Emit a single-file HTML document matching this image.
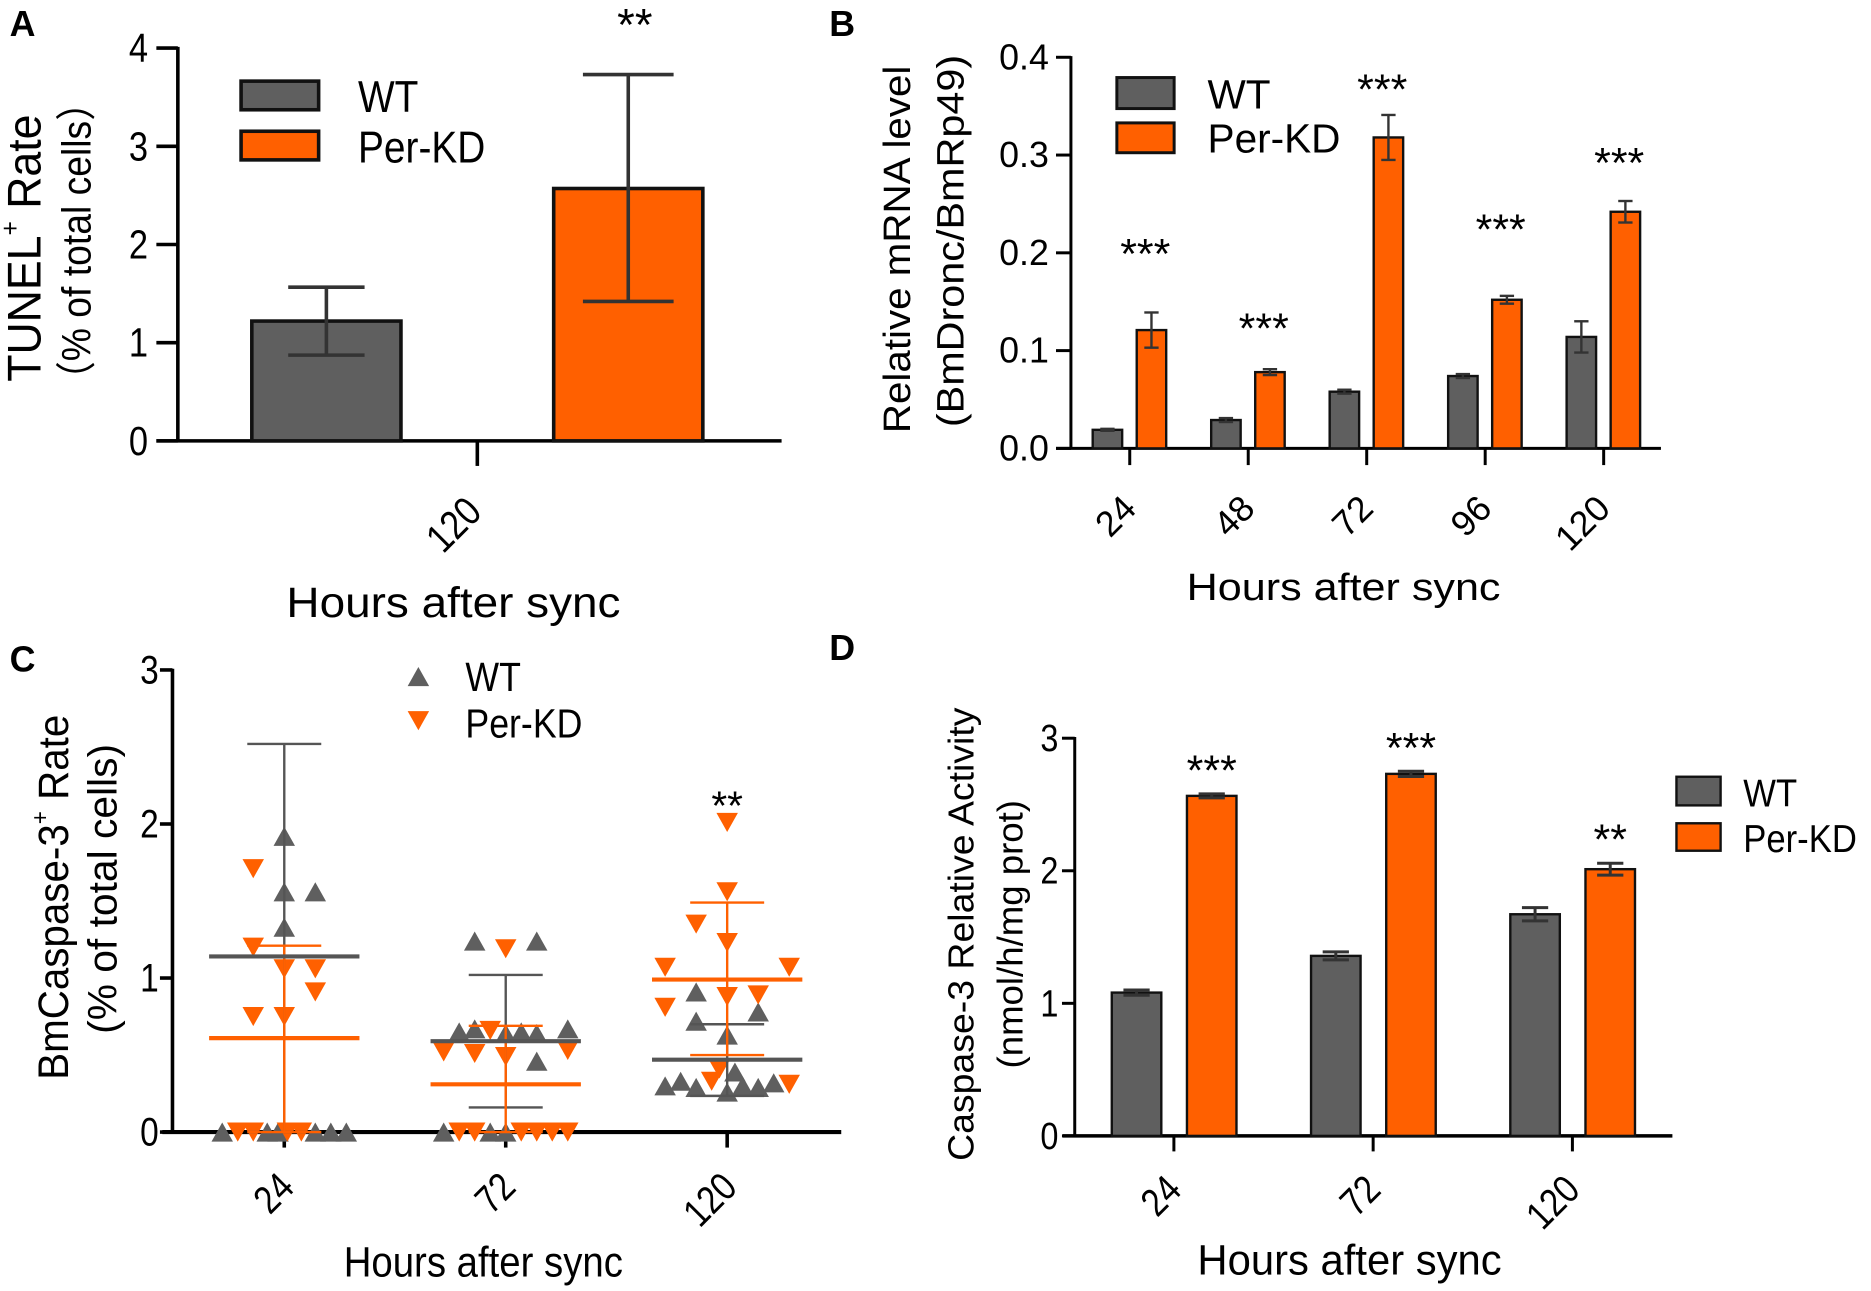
<!DOCTYPE html>
<html><head><meta charset="utf-8"><title>Apoptosis panels</title>
<style>html,body{margin:0;padding:0;background:#fff;}svg{display:block;}</style></head>
<body>
<svg id="fig" xmlns="http://www.w3.org/2000/svg" width="1871" height="1291" viewBox="0 0 1568 1082"></svg>
<script>
// ---------- Panel A data ----------
const aCategories = ["120"];
const aWT = [1.22];
const aWTLow = [0.873];
const aWTHigh = [1.565];
const aKD = [2.57];
const aKDLow = [1.42];
const aKDHigh = [3.73];
const aTicks = [0, 1, 2, 3, 4];
const aStars = ["**"];
const aStarVal = [4.34];
// ---------- Panel B data ----------
const bCategories = ["24", "48", "72", "96", "120"];
const bWT = [0.019, 0.029, 0.058, 0.074, 0.114];
const bWTErr = [0.001, 0.002, 0.002, 0.002, 0.016];
const bKD = [0.121, 0.078, 0.318, 0.152, 0.242];
const bKDErr = [0.018, 0.003, 0.023, 0.004, 0.011];
const bTicks = ["0.0", "0.1", "0.2", "0.3", "0.4"];
const bStars = ["***", "***", "***", "***", "***"];
const bStarVal = [0.209, 0.133, 0.377, 0.234, 0.302];
// ---------- Panel C data ----------
const cCategories = ["24", "72", "120"];
const cTicks = [0, 1, 2, 3];
const cWT24 = [1.92, 1.56, 1.56, 1.33, 0, 0, 0, 0, 0, 0];
const cWT24Slot = [0, 0, 2, 0, -4, -1.1, -0.4, 2, 3, 4];
const cKD24 = [1.71, 1.20, 1.06, 1.06, 0.91, 0.75, 0.75, 0, 0, 0, 0];
const cKD24Slot = [-2, -2, 0, 2, 2, -2, 0, -3, -2, 0.2, 1.1];
const cWT72 = [1.24, 1.24, 0.65, 0.67, 0.64, 0.65, 0.64, 0.67, 0.46, 0, 0, 0];
const cWT72Slot = [-2, 2, -3, -2, 0, 1, 2, 4, 2, -4, -1, 0];
const cKD72 = [1.19, 0.66, 0.52, 0.51, 0.49, 0.53, 0, 0, 0, 0, 0, 0];
const cKD72Slot = [0, -1, -4, -2, 0, 4, -3, -2, 1, 2, 3, 4];
const cWT120 = [0.91, 0.72, 0.78, 0.63, 0.30, 0.33, 0.29, 0.26, 0.39, 0.30, 0.29, 0.32];
const cWT120Slot = [-2, -2, 2, 0, -4, -3, -2, 0, 0.5, 1, 2, 3];
const cKD120 = [2.01, 1.56, 1.35, 1.23, 1.07, 1.07, 0.81, 0.88, 0.89, 0.41, 0.33, 0.31];
const cKD120Slot = [0, 0, -2, 0, -4, 4, -4, 0, 2, -0.5, -1, 4];
const cWTMean = [1.14, 0.59, 0.47];
const cWTUpper = [2.52, 1.02, 0.70];
const cWTLower = [0, 0.16, 0.235];
const cKDMean = [0.61, 0.31, 0.99];
const cKDUpper = [1.21, 0.69, 1.49];
const cKDLower = [0, 0, 0.5];
const cStars = ["", "", "**"];
const cStarVal = [0, 0, 2.18];
// ---------- Panel D data ----------
const dCategories = ["24", "72", "120"];
const dWT = [1.081, 1.358, 1.672];
const dWTErr = [0.02, 0.03, 0.05];
const dKD = [2.565, 2.731, 2.012];
const dKDErr = [0.015, 0.02, 0.045];
const dTicks = [0, 1, 2, 3];
const dStars = ["***", "***", "**"];
const dStarVal = [2.83, 3.0, 2.31];

const NS = 'http://www.w3.org/2000/svg';
const svg = document.getElementById('fig');
const GRAY = '#5f5f5f', ORANGE = '#ff6000', ERR = '#333333';
function mk(tag, attrs, parent) {
  const e = document.createElementNS(NS, tag);
  for (const k in attrs) e.setAttribute(k, attrs[k]);
  parent.appendChild(e);
  return e;
}
function txt(parent, s, x, y, size, o) {
  o = o || {};
  const tr = 'translate(' + x + ',' + y + ')' + (o.rot ? ' rotate(' + o.rot + ')' : '') + ' scale(' + (o.sx || 1) + ',1)';
  const e = mk('text', {transform: tr, 'font-size': size, 'text-anchor': o.anchor || 'middle',
    'font-family': '"Liberation Sans", "Noto Sans CJK SC", sans-serif', 'font-weight': o.bold ? 'bold' : 'normal',
    'dominant-baseline': o.db || 'auto', fill: o.fill || '#000'}, parent);
  if (o.len) { e.setAttribute('textLength', o.len); e.setAttribute('lengthAdjust', 'spacingAndGlyphs'); }
  if (o.html) e.innerHTML = s; else e.textContent = s;
  return e;
}
function line(parent, x1, y1, x2, y2, col, w) {
  return mk('line', {x1: x1, y1: y1, x2: x2, y2: y2, stroke: col, 'stroke-width': w}, parent);
}
function errBar(parent, x, yTop, yBot, half, col, w) {
  const g = mk('g', {}, parent);
  line(g, x, yTop, x, yBot, col, w);
  line(g, x - half, yTop, x + half, yTop, col, w);
  line(g, x - half, yBot, x + half, yBot, col, w);
  return g;
}
function tri(parent, x, y, up, col) {
  const p = up ? [[x - 9, y + 8], [x + 9, y + 8], [x, y - 8]] : [[x - 9, y - 8], [x + 9, y - 8], [x, y + 8]];
  return mk('polygon', {points: p.map(q => q.join(',')).join(' '), fill: col}, parent);
}

// ================= PANEL A =================
(function () {
  const P = mk('g', {}, svg);
  
  
  const y = v => 369.5 - v * 82.3;
  const tickX = i => 400 + i * 250;
  let t = txt(P, 'A', 8, 30, 30, {anchor: 'start', bold: true});
   
  const ax = mk('g', {}, P);
   
  line(ax, 149, y(4) - 1, 149, y(0), '#000', 3);
  aTicks.forEach(v => {
    line(ax, 131, y(v), 149, y(v), '#000', 3);
    const l = txt(ax, String(v), 124, y(v), 34, {anchor: 'end', db: 'central', sx: 0.85});
     
  });
  const xa = mk('g', {}, P);
   
  line(xa, 131, y(0), 655, y(0), '#000', 3);
  aCategories.forEach((c, i) => {
    const x = tickX(i);
    line(xa, x, y(0), x, y(0) + 21, '#000', 3);
    const l = txt(xa, c, x - 3, y(0) + 53, 34, {anchor: 'end', db: 'central', rot: -45, sx: 0.85});
     
    const bw = mk('rect', {x: x - 126.5 - 62.5, y: y(aWT[i]), width: 125, height: y(0) - y(aWT[i]), fill: GRAY, stroke: '#111', 'stroke-width': 3}, P);
     
    const bk = mk('rect', {x: x + 126.5 - 62.5, y: y(aKD[i]), width: 125, height: y(0) - y(aKD[i]), fill: ORANGE, stroke: '#111', 'stroke-width': 3}, P);
     
    const e1 = errBar(P, x - 126.5, y(aWTHigh[i]), y(aWTLow[i]), 32, ERR, 3);
     
    const e2 = errBar(P, x + 126.5, y(aKDHigh[i]), y(aKDLow[i]), 38, ERR, 3);
     
    const s = txt(P, aStars[i], x + 132, y(aStarVal[i]) + 0.57 * 38, 38);
     
  });
  t = txt(P, 'Hours after sync', 380, 517, 36, {len: 280});
   
  t = txt(P, 'TUNEL<tspan baseline-shift="super" font-size="22">+</tspan> Rate', 21, 208, 40, {rot: -90, db: 'central', len: 224, html: true});
   
  t = txt(P, '（% of total cells）', 64, 202, 34, {rot: -90, db: 'central', len: 264});
   
  const lg = mk('g', {}, P);
   
  mk('rect', {x: 202, y: 68, width: 65, height: 24, fill: GRAY, stroke: '#111', 'stroke-width': 3}, lg);
  mk('rect', {x: 202, y: 110, width: 65, height: 24, fill: ORANGE, stroke: '#111', 'stroke-width': 3}, lg);
  t = txt(lg, 'WT', 300, 94, 37, {anchor: 'start', sx: 0.88});
   
  t = txt(lg, 'Per-KD', 300, 136, 37, {anchor: 'start', sx: 0.88});
   
})();

// ================= PANEL B =================
(function () {
  const P = mk('g', {}, svg);
  
  
  const y = v => 375.8 - v * 819.5;
  const tickX = i => 946.8 + i * 99.3;
  let t = txt(P, 'B', 695, 30, 30, {anchor: 'start', bold: true});
   
  const ax = mk('g', {}, P);
   
  line(ax, 897.5, y(0.4) - 1, 897.5, y(0), '#000', 2.5);
  bTicks.forEach(s => {
    const v = parseFloat(s);
    line(ax, 885, y(v), 897.5, y(v), '#000', 2.5);
    const l = txt(ax, s, 879, y(v), 30, {anchor: 'end', db: 'central'});
     
  });
  const xa = mk('g', {}, P);
   
  line(xa, 885, y(0), 1392, y(0), '#000', 2.5);
  bCategories.forEach((c, i) => {
    const x = tickX(i);
    line(xa, x, y(0), x, y(0) + 14, '#000', 2.5);
    const l = txt(xa, c, x, y(0) + 45, 30, {anchor: 'end', db: 'central', rot: -45});
     
    const bw = mk('rect', {x: x - 18.7 - 12.35, y: y(bWT[i]), width: 24.7, height: y(0) - y(bWT[i]), fill: GRAY, stroke: '#111', 'stroke-width': 2}, P);
     
    const bk = mk('rect', {x: x + 18.2 - 12.35, y: y(bKD[i]), width: 24.7, height: y(0) - y(bKD[i]), fill: ORANGE, stroke: '#111', 'stroke-width': 2}, P);
     
    const e1 = errBar(P, x - 18.7, y(bWT[i] + bWTErr[i]), y(bWT[i] - bWTErr[i]), 6, ERR, 2);
     
    const e2 = errBar(P, x + 18.2, y(bKD[i] + bKDErr[i]), y(bKD[i] - bKDErr[i]), 6, ERR, 2);
     
    const s = txt(P, bStars[i], x + 13, y(bStarVal[i]) + 0.57 * 36, 36);
     
  });
  t = txt(P, 'Hours after sync', 1126, 503, 32, {len: 263});
   
  t = txt(P, 'Relative mRNA level', 752, 209, 32, {rot: -90, db: 'central', len: 308});
   
  t = txt(P, '(BmDronc/BmRp49)', 797, 202, 32, {rot: -90, db: 'central', len: 312});
   
  const lg = mk('g', {}, P);
   
  mk('rect', {x: 936, y: 65, width: 48, height: 26, fill: GRAY, stroke: '#111', 'stroke-width': 2.5}, lg);
  mk('rect', {x: 936, y: 103, width: 48, height: 25, fill: ORANGE, stroke: '#111', 'stroke-width': 2.5}, lg);
  t = txt(lg, 'WT', 1012, 91, 34, {anchor: 'start'});
   
  t = txt(lg, 'Per-KD', 1012, 128, 34, {anchor: 'start'});
   
})();

// ================= PANEL C =================
(function () {
  const P = mk('g', {}, svg);
  
  
  const y = v => 948.8 - v * 129.1;
  const tickX = i => 238.2 + i * 185.6;
  const SLOT = 13;
  let t = txt(P, 'C', 8, 563, 30, {anchor: 'start', bold: true});
   
  const ax = mk('g', {}, P);
   
  line(ax, 144.5, y(3) - 1, 144.5, y(0), '#000', 3);
  cTicks.forEach(v => {
    line(ax, 134, y(v), 144.5, y(v), '#000', 3);
    const l = txt(ax, String(v), 133, y(v), 33, {anchor: 'end', db: 'central', sx: 0.85});
     
  });
  const xa = mk('g', {}, P);
   
  line(xa, 136, y(0), 705, y(0), '#000', 3.5);
  const wtSets = [[cWT24, cWT24Slot], [cWT72, cWT72Slot], [cWT120, cWT120Slot]];
  const kdSets = [[cKD24, cKD24Slot], [cKD72, cKD72Slot], [cKD120, cKD120Slot]];
  cCategories.forEach((c, i) => {
    const x = tickX(i);
    line(xa, x, y(0), x, y(0) + 13, '#000', 3);
    const l = txt(xa, c, x + 2, y(0) + 40, 33, {anchor: 'end', db: 'central', rot: -45, sx: 0.85});
     
    const g = mk('g', {}, P);
     
    wtSets[i][0].forEach((v, j) => {
      const p = tri(g, x + wtSets[i][1][j] * SLOT, y(v), true, GRAY);
       
    });
    kdSets[i][0].forEach((v, j) => {
      const p = tri(g, x + kdSets[i][1][j] * SLOT, y(v), false, ORANGE);
       
    });
    const e1 = errBar(g, x, y(cWTUpper[i]), y(cWTLower[i]), 31, '#555', 2);
     
    const e2 = errBar(g, x, y(cKDUpper[i]), y(cKDLower[i]), 31, ORANGE, 2);
     
    const m1 = line(g, x - 63, y(cWTMean[i]), x + 63, y(cWTMean[i]), '#555', 3.5);
     
    const m2 = line(g, x - 63, y(cKDMean[i]), x + 63, y(cKDMean[i]), ORANGE, 3.5);
     
    if (cStars[i]) {
      const s = txt(P, cStars[i], x, y(cStarVal[i]) + 0.57 * 34, 34);
       
    }
  });
  t = txt(P, 'Hours after sync', 405, 1070, 36, {len: 234});
   
  t = txt(P, 'BmCaspase-3<tspan baseline-shift="super" font-size="20">+</tspan> Rate', 45, 752, 36, {rot: -90, db: 'central', len: 306, html: true});
   
  t = txt(P, '(% of total cells)', 86, 745, 34, {rot: -90, db: 'central', len: 243});
   
  const lg = mk('g', {}, P);
   
  tri(lg, 350.6, 567, true, GRAY);
  tri(lg, 350.6, 604, false, ORANGE);
  t = txt(lg, 'WT', 390, 579, 34, {anchor: 'start', sx: 0.88});
   
  t = txt(lg, 'Per-KD', 390, 618, 34, {anchor: 'start', sx: 0.88});
   
})();

// ================= PANEL D =================
(function () {
  const P = mk('g', {}, svg);
  
  
  const y = v => 952 - v * 111.1;
  const tickX = i => 983.8 + i * 167;
  let t = txt(P, 'D', 695, 553, 30, {anchor: 'start', bold: true});
   
  const ax = mk('g', {}, P);
   
  line(ax, 900.7, y(3) - 1, 900.7, y(0), '#000', 2.5);
  dTicks.forEach(v => {
    line(ax, 890, y(v), 900.7, y(v), '#000', 2.5);
    const l = txt(ax, String(v), 887, y(v), 32, {anchor: 'end', db: 'central', sx: 0.85});
     
  });
  const xa = mk('g', {}, P);
   
  line(xa, 890.6, y(0), 1401.6, y(0), '#000', 3);
  dCategories.forEach((c, i) => {
    const x = tickX(i);
    line(xa, x, y(0), x, y(0) + 13, '#000', 2.5);
    const l = txt(xa, c, x, y(0) + 39, 33, {anchor: 'end', db: 'central', rot: -45, sx: 0.85});
     
    const bw = mk('rect', {x: x - 31.3 - 20.75, y: y(dWT[i]), width: 41.5, height: y(0) - y(dWT[i]), fill: GRAY, stroke: '#111', 'stroke-width': 2}, P);
     
    const bk = mk('rect', {x: x + 31.7 - 20.75, y: y(dKD[i]), width: 41.5, height: y(0) - y(dKD[i]), fill: ORANGE, stroke: '#111', 'stroke-width': 2}, P);
     
    const e1 = errBar(P, x - 31.3, y(dWT[i] + dWTErr[i]), y(dWT[i] - dWTErr[i]), 11, ERR, 2.5);
     
    const e2 = errBar(P, x + 31.7, y(dKD[i] + dKDErr[i]), y(dKD[i] - dKDErr[i]), 11, ERR, 2.5);
     
    const s = txt(P, dStars[i], x + 31.7, y(dStarVal[i]) + 0.57 * 36, 36);
     
  });
  t = txt(P, 'Hours after sync', 1131, 1068, 36, {len: 255});
   
  t = txt(P, 'Caspase-3 Relative Activity', 806, 783, 30, {rot: -90, db: 'central', len: 380});
   
  t = txt(P, '(nmol/h/mg prot)', 847, 783, 30, {rot: -90, db: 'central', len: 225});
   
  const lg = mk('g', {}, P);
   
  mk('rect', {x: 1405, y: 651, width: 37, height: 24, fill: GRAY, stroke: '#111', 'stroke-width': 2}, lg);
  mk('rect', {x: 1405, y: 690, width: 37, height: 23, fill: ORANGE, stroke: '#111', 'stroke-width': 2}, lg);
  t = txt(lg, 'WT', 1461, 676, 33, {anchor: 'start', sx: 0.88});
   
  t = txt(lg, 'Per-KD', 1461, 714, 33, {anchor: 'start', sx: 0.88});
   
})();
</script>
</body></html>
